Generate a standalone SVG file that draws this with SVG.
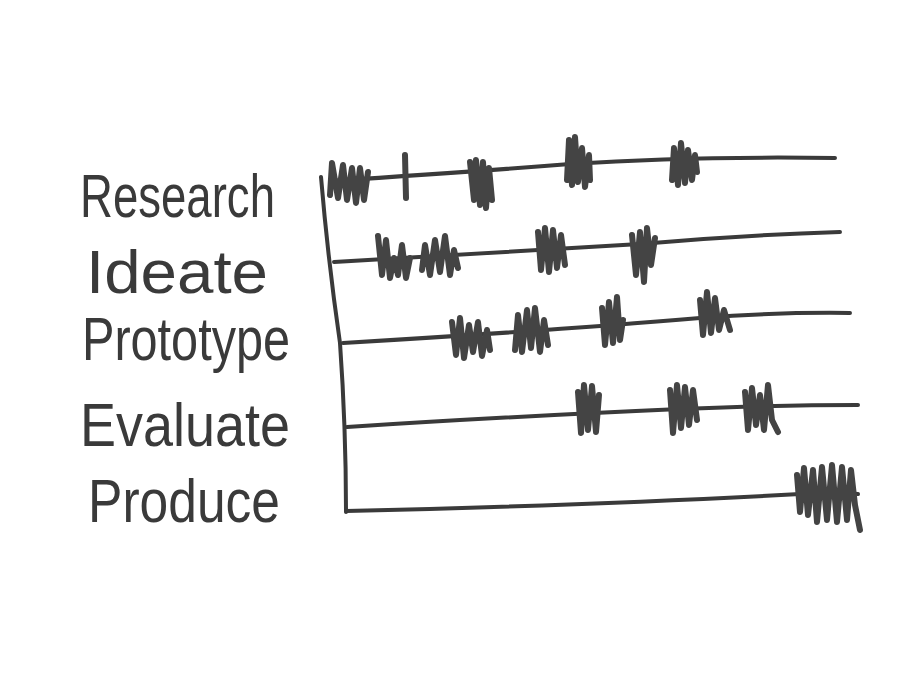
<svg xmlns="http://www.w3.org/2000/svg" width="900" height="675" viewBox="0 0 900 675">
<style>
.lbl{font-family:"Liberation Sans","DejaVu Sans",sans-serif;font-size:62px;fill:#3a3a3a;}
.ln{fill:none;stroke:#3a3a3a;stroke-width:4;stroke-linecap:round;stroke-linejoin:round;}
.h{fill:none;stroke:#444;stroke-width:6;stroke-linecap:round;stroke-linejoin:round;}
</style>
<rect width="900" height="675" fill="#ffffff"/>
<g id="labels">
<text class="lbl" x="80" y="217" textLength="195" lengthAdjust="spacingAndGlyphs">Research</text>
<text class="lbl" x="86" y="293" textLength="182" lengthAdjust="spacingAndGlyphs">Ideate</text>
<text class="lbl" x="82" y="360" textLength="208" lengthAdjust="spacingAndGlyphs">Prototype</text>
<text class="lbl" x="80" y="446" textLength="210" lengthAdjust="spacingAndGlyphs">Evaluate</text>
<text class="lbl" x="88" y="522" textLength="192" lengthAdjust="spacingAndGlyphs">Produce</text>
</g>
<g id="connectors">
<path class="ln" d="M321,177 Q328,260 340,343 Q346,428 346,512"/>
<path class="ln" d="M330,181 Q470,172 570,164 Q690,156 835,158"/>
<path class="ln" d="M334,262 Q500,252 640,244 Q740,235 840,232"/>
<path class="ln" d="M343,343 Q560,330 700,318 Q780,312 850,313"/>
<path class="ln" d="M347,427 Q500,417 680,409 Q780,405 858,405"/>
<path class="ln" d="M346,511 Q600,505 800,494 Q830,492 858,494"/>
</g>
<g id="research-hatches">
<path class="h" d="M330,195 L332,163 L338,198 L343,165 L347,200 L352,168 L356,203 L360,168 L364,200 L368,172"/>
<path class="h" d="M405,155 L406,198"/>
<path class="h" d="M470,162 L474,200 L476,160 L480,205 L483,162 L486,208 L489,168 L492,200"/>
<path class="h" d="M567,180 L569,140 L572,185 L575,137 L578,182 L582,148 L585,187 L589,155 L590,180"/>
<path class="h" d="M672,180 L674,148 L678,185 L681,143 L685,183 L688,150 L692,180 L695,155 L697,172"/>
</g>
<g id="ideate-hatches">
<path class="h" d="M378,236 L382,275 L386,240 L390,278 L394,258 L398,275 L402,245 L406,278 L410,258"/>
<path class="h" d="M422,270 L425,245 L430,275 L435,240 L440,272 L445,236 L450,275 L454,250 L458,268"/>
<path class="h" d="M538,232 L541,270 L545,228 L549,272 L553,230 L557,268 L561,235 L565,265"/>
<path class="h" d="M632,235 L636,275 L640,232 L644,282 L647,228 L651,265 L655,238"/>
</g>
<g id="prototype-hatches">
<path class="h" d="M452,322 L456,355 L460,318 L464,358 L469,325 L473,352 L478,322 L482,356 L487,330 L490,350"/>
<path class="h" d="M515,350 L518,315 L522,352 L527,310 L531,348 L535,308 L540,352 L544,320 L548,345"/>
<path class="h" d="M602,308 L605,345 L609,302 L613,343 L617,297 L620,340 L623,320"/>
<path class="h" d="M700,300 L703,335 L707,292 L711,333 L715,298 L719,330 L724,310 L730,330"/>
</g>
<g id="evaluate-hatches">
<path class="h" d="M578,392 L581,433 L584,385 L588,430 L592,386 L596,432 L599,395"/>
<path class="h" d="M670,390 L673,433 L677,385 L681,428 L685,387 L689,425 L693,390 L697,420"/>
<path class="h" d="M745,392 L748,430 L752,388 L756,425 L760,395 L764,430 L768,385 L772,420 L778,432"/>
</g>
<g id="produce-hatches">
<path class="h" d="M797,475 L800,512 L804,468 L808,515 L813,470 L817,522 L822,467 L827,520 L832,465 L837,522 L842,467 L847,520 L851,470 L855,505 L860,530"/>
</g>
</svg>
